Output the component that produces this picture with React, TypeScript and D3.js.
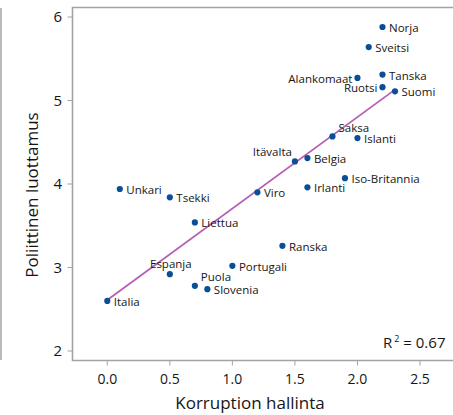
import React from "react";
import * as d3 from "d3";

const countries = ["Norja","Sveitsi","Alankomaat","Tanska","Ruotsi","Suomi","Saksa","Islanti","Itävalta","Belgia","Iso-Britannia","Unkari","Tsekki","Viro","Irlanti","Liettua","Ranska","Portugali","Espanja","Puola","Slovenia","Italia"];
const corruption = [2.2,2.09,2.0,2.2,2.2,2.3,1.8,2.0,1.5,1.6,1.9,0.1,0.5,1.2,1.6,0.7,1.4,1.0,0.5,0.7,0.8,0.0];
const trust = [5.88,5.64,5.27,5.31,5.16,5.11,4.57,4.55,4.27,4.31,4.07,3.94,3.84,3.90,3.96,3.54,3.26,3.02,2.92,2.78,2.74,2.60];
// label placement: r = right, l = left, ar = above-right, al = above-left, a = above
const labelPos = ["r","r","l","r","l","r","ar","r","al","r","r","r","r","r","r","r","r","r","a","ar","r","r"];
const fitX = [0.0, 2.3];
const fitY = [2.61, 5.13];
const xTicks = [0, 0.5, 1.0, 1.5, 2.0, 2.5];
const yTicks = [2, 3, 4, 5, 6];
const rSquared = "0.67";

const FONT = "'Open Sans', 'Noto Sans', sans-serif";

export default function App() {
  const x = d3.scaleLinear().domain([0, 2.5]).range([107.3, 420]);
  const y = d3.scaleLinear().domain([2, 6]).range([351, 17]);
  const frameL = 72.5, frameT = 7.5, frameB = 360.5, frameR = 453;
  const line = d3.line<number>().x((d, i) => x(fitX[i])).y((d, i) => y(fitY[i]));
  const gray = "#a3a3a3";
  const ink = "#161616";

  return (
    <svg width={453} height={415} style={{ position: "absolute", left: 0, top: 0 }} fontFamily={FONT}>
      <rect x={0} y={0} width={453} height={415} fill="#fff" />
      <line x1={1} x2={1} y1={8} y2={360} stroke={gray} strokeWidth={1.5} />
      <path d={`M${frameR},${frameT}H${frameL}V${frameB}H${frameR}`} fill="none" stroke={gray} strokeWidth={1.6} />
      {yTicks.map((t) => (
        <g key={"y" + t}>
          <line x1={frameL - 5} x2={frameL} y1={y(t)} y2={y(t)} stroke={gray} strokeWidth={1} />
          <text x={62} y={y(t)} dy="0.35em" textAnchor="end" fontSize={15} fill={ink}>{t}</text>
        </g>
      ))}
      {xTicks.map((t) => (
        <g key={"x" + t}>
          <line x1={x(t)} x2={x(t)} y1={frameB} y2={frameB + 5} stroke={gray} strokeWidth={1} />
          <text x={x(t)} y={384} textAnchor="middle" fontSize={14} fill={ink}>{d3.format(".1f")(t)}</text>
        </g>
      ))}
      <text x={250} y={409} textAnchor="middle" fontSize={17} fill={ink}>Korruption hallinta</text>
      <text transform={`translate(38,195) rotate(-90)`} textAnchor="middle" fontSize={17} fill={ink}>Poliittinen luottamus</text>
      <path d={line(fitX) || ""} fill="none" stroke="#b55fb5" strokeWidth={1.8} />
      {countries.map((c, i) => {
        const cx = x(corruption[i]);
        const cy = y(trust[i]);
        const p = labelPos[i];
        let tx = cx + 6.5, ty = cy + 1, anchor = "start";
        if (p === "l") { tx = cx - 5; anchor = "end"; }
        if (p === "ar") { tx = cx + 6; ty = cy - 8.5; }
        if (p === "al") { tx = cx - 3; ty = cy - 9; anchor = "end"; }
        if (p === "a") { tx = cx + 1; ty = cy - 10.5; anchor = "middle"; }
        return (
          <g key={c}>
            <circle cx={cx} cy={cy} r={3.1} fill="#0a4e98" />
            <text x={tx} y={ty} dy="0.35em" textAnchor={anchor} fontSize={11.5} fill={ink}>{c}</text>
          </g>
        );
      })}
      <text x={383} y={348} fontSize={15} fill={ink}>
        R<tspan dx={2} dy={-6} fontSize={9}>2</tspan><tspan dy={6}> = {rSquared}</tspan>
      </text>
    </svg>
  );
}
